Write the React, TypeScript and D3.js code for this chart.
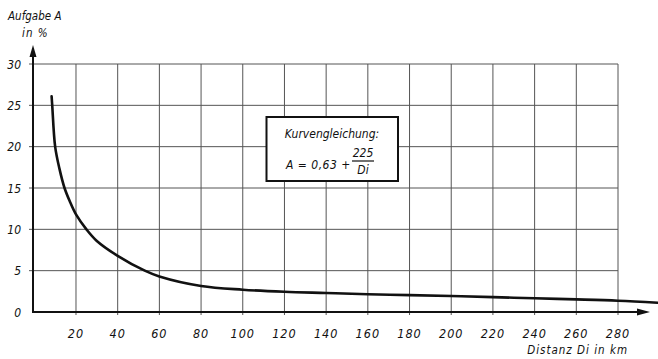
import React from 'react';
import * as d3 from 'd3';

// readings: distance Di in km, task share A in %
const distanz = [8.3, 8.6, 10, 12, 14.5, 17, 20, 25, 30, 40, 53, 60, 80, 100, 120, 140, 160, 180, 200, 220, 240, 260, 280, 299];
const aufgabe = [26.1, 25, 20, 17.4, 15, 13.4, 11.8, 10, 8.6, 6.8, 5, 4.3, 3.15, 2.7, 2.45, 2.3, 2.15, 2.04, 1.93, 1.8, 1.66, 1.53, 1.37, 1.12];

const xTicks = [20, 40, 60, 80, 100, 120, 140, 160, 180, 200, 220, 240, 260, 280];
const yTicks = [0, 5, 10, 15, 20, 25, 30];

const W = 658;
const H = 359;
const font = '"DejaVu Sans", sans-serif';

export default function App() {
  const x = d3.scaleLinear().domain([0, 280]).range([34.3, 618]);
  const y = d3.scaleLinear().domain([0, 30]).range([312, 64]);

  const pts = distanz.map((d, i) => [d, aufgabe[i]] as [number, number]);
  const curve = d3
    .line<[number, number]>()
    .x(d => x(d[0]))
    .y(d => y(d[1]))
    .curve(d3.curveCatmullRom.alpha(0.5));

  const x0 = 33;
  const y0 = y(0);

  return (
    <svg
      width={W}
      height={H}
      viewBox={`0 0 ${W} ${H}`}
      style={{ position: 'absolute', left: 0, top: 0, background: '#fff', fontStretch: 'condensed' }}
      fontFamily={font}
      fontStyle="italic"
    >
      {/* grid */}
      <g stroke="#555" strokeWidth={1}>
        {xTicks.map(t => (
          <line key={'gx' + t} x1={x(t)} x2={x(t)} y1={y(30)} y2={y0 + 3} />
        ))}
        {yTicks.filter(t => t > 0).map(t => (
          <line key={'gy' + t} x1={x0 - 4} x2={x(280)} y1={y(t)} y2={y(t)} />
        ))}
      </g>

      {/* formula box */}
      <rect x={266.5} y={117} width={131.5} height={64} fill="#fff" stroke="#111" strokeWidth={2} />
      <text x={332} y={138} fontSize={12} textAnchor="middle" fill="#111">Kurvengleichung:</text>
      <text x={286} y={169} fontSize={12} fill="#111" letterSpacing={0.5}>A = 0,63 +</text>
      <text x={363} y={157} fontSize={12} textAnchor="middle" fill="#111">225</text>
      <line x1={352} x2={374} y1={161} y2={161} stroke="#111" strokeWidth={1.2} />
      <text x={363} y={174} fontSize={12} textAnchor="middle" fill="#111">Di</text>

      {/* axes */}
      <line x1={x0} x2={x0} y1={y0 + 1} y2={54} stroke="#111" strokeWidth={2} />
      <path d={`M${x0},45 L${x0 - 3.5},57 L${x0 + 3.5},57 Z`} fill="#111" />
      <line x1={x0 - 1} x2={640} y1={y0} y2={y0} stroke="#111" strokeWidth={2} />
      <path d={`M650,${y0} L637,${y0 - 3.5} L637,${y0 + 3.5} Z`} fill="#111" />

      {/* curve */}
      <path d={curve(pts) || ''} fill="none" stroke="#111" strokeWidth={2.6} strokeLinecap="round" />

      {/* tick labels */}
      {yTicks.map(t => (
        <text key={'ly' + t} x={21} y={y(t) + 4.5} fontSize={12} textAnchor="end" fill="#111">
          {t}
        </text>
      ))}
      {xTicks.map(t => (
        <text key={'lx' + t} x={x(t)} y={338} fontSize={12.5} textAnchor="middle" fill="#111" letterSpacing={1}>
          {t}
        </text>
      ))}

      {/* axis titles */}
      <text x={8} y={20} fontSize={11.5} fill="#111">Aufgabe A</text>
      <text x={22} y={37} fontSize={11.5} fill="#111" letterSpacing={1}>in %</text>
      <text x={628} y={354} fontSize={11.5} textAnchor="end" fill="#111" letterSpacing={1}>Distanz Di in km</text>
    </svg>
  );
}
